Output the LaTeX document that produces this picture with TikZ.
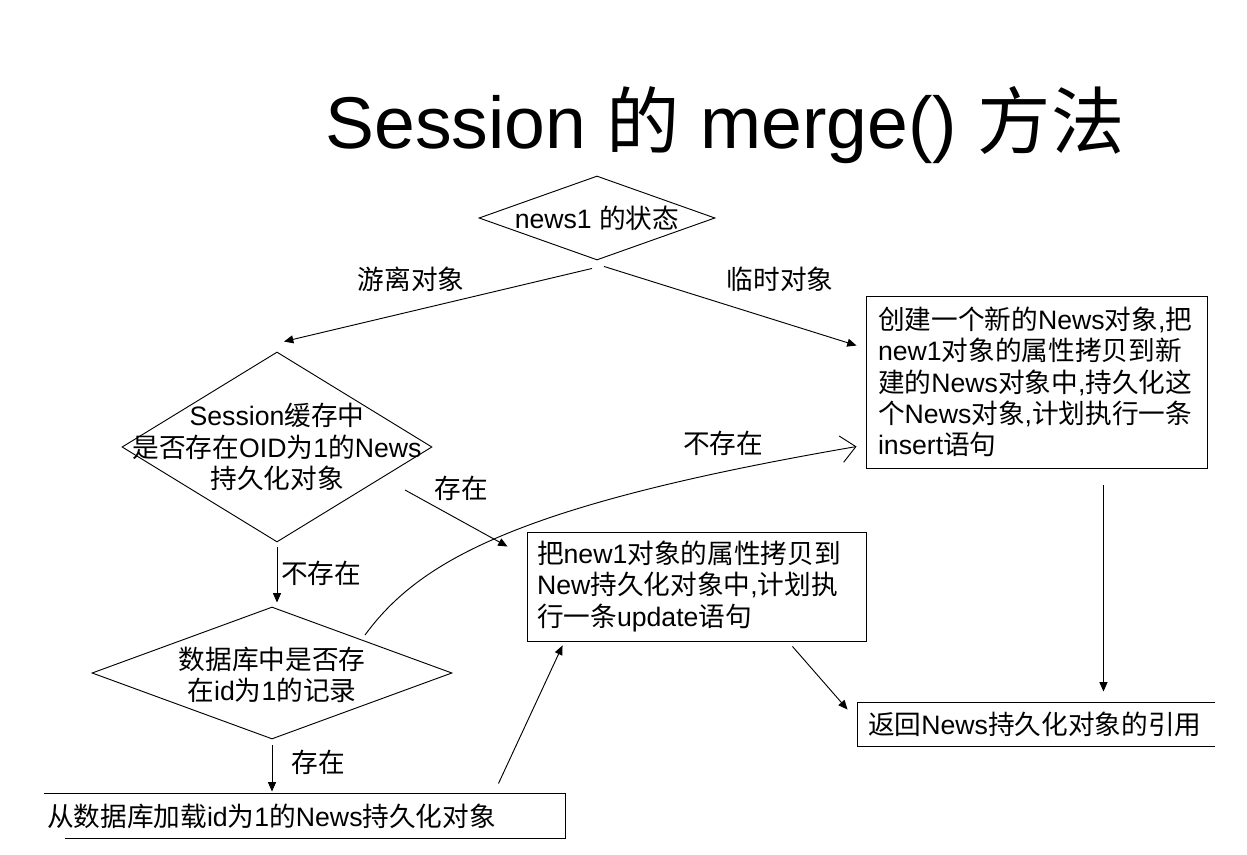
\documentclass[tikz,border=0pt]{standalone}
\usepackage{fontspec}
\setmainfont{Liberation Sans}
\newfontfamily\cjkf{Noto Sans CJK SC}
\newfontfamily\latf{Liberation Sans}
\usetikzlibrary{shapes.geometric,arrows.meta,calc}
\newXeTeXintercharclass\cjkclass
\count255="4E00
\loop \XeTeXcharclass\count255=\cjkclass \advance\count255 by 1 \ifnum\count255<"A000 \repeat
\XeTeXinterchartoks 0 \cjkclass = {\cjkf}
\XeTeXinterchartoks 4095 \cjkclass = {\cjkf}
\XeTeXinterchartoks \cjkclass 0 = {\latf}
\XeTeXinterchartoks \cjkclass 4095 = {\latf}
\XeTeXinterchartokenstate=1
\begin{document}
\begin{tikzpicture}[x=0.75pt,y=-0.75pt, line width=0.7pt,
  txt/.style={font=\fontsize{20}{23.5}\selectfont, inner sep=0pt},
  dia/.style={draw, diamond, inner sep=0pt},
  box/.style={rectangle, inner ysep=0pt, align=left, font=\fontsize{20}{23.5}\selectfont},
  arr/.style={-{Triangle[length=7pt,width=6pt]}},
  barb/.style={-{Straight Barb[length=11pt,width=20pt]}}]
\useasboundingbox (0,0) rectangle (1247,855);
\fill[white] (0,0) rectangle (1247,855);
\node[font=\fontsize{55}{60}\selectfont, inner sep=0pt] (title) at (725,125) {Session 的 merge() 方法};
% diamonds
\node[dia, minimum width=177pt, minimum height=63pt] (d1) at (597,218) {};
\node[txt] (d1t) at (d1.center) {news1 的状态};
\node[dia, minimum width=232.5pt, minimum height=142.5pt] (d2) at (277,447) {};
\node[txt, align=center] (d2t) at (d2.center) {Session缓存中\\是否存在OID为1的News\\持久化对象};
\node[dia, minimum width=270pt, minimum height=99pt] (d3) at (272,673) {};
\node[txt, align=center] (d3t) at ($(d3.center)+(0,2)$) {数据库中是否存\\在id为1的记录};
% boxes
\node[box, draw, minimum height=129pt, text width=237.75pt, inner xsep=9pt] (b1) at (1036.5,382) {创建一个新的News对象,把\\new1对象的属性拷贝到新\\建的News对象中,持久化这\\个News对象,计划执行一条\\insert语句};
\node[box, draw, minimum height=81.75pt, text width=239.25pt, inner xsep=7.5pt] (b2) at (696.5,586.5) {把new1对象的属性拷贝到\\New持久化对象中,计划执\\行一条update语句};
\node[box, minimum height=33pt, text width=386.25pt, inner xsep=2.25pt] (b3) at (304.5,816) {从数据库加载id为1的News持久化对象};
\draw (b3.north west) -- (b3.north east) -- (b3.south east) -- ($(b3.south west)+(21,0)$);
\node[box, minimum height=32.25pt, text width=252.75pt, inner xsep=7.5pt] (b4) at (1036.5,724.5) {返回News持久化对象的引用};
\draw (b4.north east) -- (b4.north west) -- (b4.south west) -- (b4.south east);
% labels
\node[txt] (l1) at (411,279) {游离对象};
\node[txt] (l2) at (780,279) {临时对象};
\node[txt] (l3) at (461,488) {存在};
\node[txt] (l4) at (723,443) {不存在};
\node[txt] (l5) at (321,573) {不存在};
\node[txt] (l6) at (318,762) {存在};
% connectors
\draw[arr] ([shift={(-5,8)}]d1.south) -- ([shift={(7,-10)}]d2.north);
\draw[arr] ([shift={(7,6)}]d1.south) -- ([shift={(-9,50)}]b1.north west);
\draw[arr] ([shift={(128,43)}]d2.center) -- ([shift={(-19,15)}]b2.north west);
\draw[arr] ([shift={(0,5)}]d2.south) -- ($(d2.south |- d3.north)+(0,-4)$);
\draw[arr] ([shift={(0,6)}]d3.south) -- ($(d3.south |- b3.north)+(0,-2)$);
\draw[arr] ([shift={(-67,-10)}]b3.north east) -- ([shift={(36,4)}]b2.south west);
\draw[arr] ([shift={(-74,5)}]b2.south east) -- ([shift={(-10,7)}]b4.north west);
\draw[arr] ([shift={(-104,17)}]b1.south east) -- ($(b1.south east |- b4.north)+(-104,-11)$);
\draw[barb] ([shift={(93,-38)}]d3.center) .. controls ([shift={(148,-113)}]d3.center) and ([shift={(-346,209)}]b1.north west) .. ([shift={(-9,151)}]b1.north west);
\end{tikzpicture}
\end{document}
